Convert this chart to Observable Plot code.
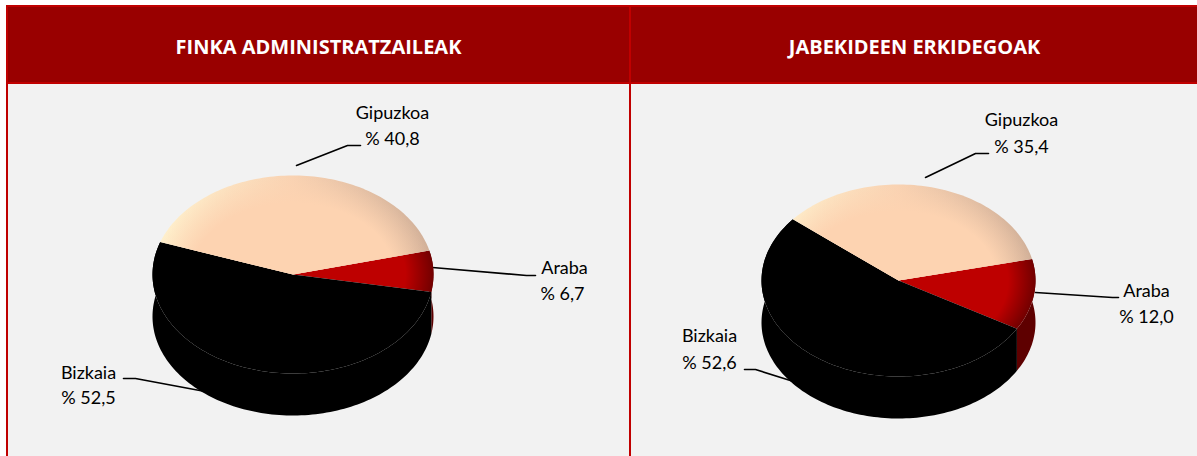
<!DOCTYPE html>
<html>
<head>
<meta charset="utf-8">
<style>html,body{margin:0;padding:0;background:#fff}svg{display:block}</style>
<script src="https://cdn.jsdelivr.net/npm/d3@7"></script>
<script src="https://cdn.jsdelivr.net/npm/@observablehq/plot@0.6"></script>
</head>
<body>
<div id="chart"></div>
<script>
const panelTitles = ["FINKA ADMINISTRATZAILEAK", "JABEKIDEEN ERKIDEGOAK"];
const categories = ["Araba", "Bizkaia", "Gipuzkoa"];
const leftValues = [6.7, 52.5, 40.8];
const rightValues = [12.0, 52.6, 35.4];
const leftLabels = ["% 6,7", "% 52,5", "% 40,8"];
const rightLabels = ["% 12,0", "% 52,6", "% 35,4"];

const W = 1197, H = 456;
const RED = "#C00000", HEAD = "#990000", BG = "#F2F2F2", FONT = "Lato, 'Open Sans', sans-serif";

const panels = [
  {id: "l", x1: 7, x2: 630, titleX: 318},
  {id: "r", x1: 630, x2: 1198, titleX: 914}
];
const pies = [
  {id: "l", values: leftValues, labels: leftLabels, cx: 292.5, cy: 274, rx: 140.5, ry: 99, depth: 42, start: 14,
   hl: {cx: 292, cy: 283, rx: 137, ry: 100},
   text: [[564, 268, 562, 294], [88, 373, 88, 398], [392, 113, 392, 139]],
   leaders: [[[432, 267], [526, 275], [535, 275]], [[123, 378], [135, 378], [210, 392]], [[296, 165], [347, 145], [360, 145]]]},
  {id: "r", values: rightValues, labels: rightLabels, cx: 898, cy: 280, rx: 137, ry: 96, depth: 42, start: 13,
   hl: {cx: 898, cy: 289, rx: 134, ry: 99},
   text: [[1146, 291, 1146, 317], [709, 336, 709, 363], [1021, 120, 1021, 147]],
   leaders: [[[1035, 292], [1112, 297], [1118, 297]], [[744, 369], [755, 369], [793, 381]], [[925, 177], [975, 153], [988, 153]]]}
];

const rad = d => d * Math.PI / 180;
function arc(p, a0, a1, dy = 0) {
  const n = Math.max(2, Math.ceil(Math.abs(a1 - a0) / 1.5));
  return d3.range(n + 1).map(i => {
    const a = a0 + (a1 - a0) * i / n;
    return {x: p.cx + p.rx * Math.cos(rad(a)), y: p.cy - p.ry * Math.sin(rad(a)) + dy};
  });
}
const ellipsePts = e => d3.range(0, 361, 2).map(a => ({x: e.cx + e.rx * Math.cos(rad(a)), y: e.cy - e.ry * Math.sin(rad(a))}));

function defs() {
  const ns = "http://www.w3.org/2000/svg";
  const el = document.createElementNS(ns, "defs");
  el.innerHTML = pies.map(p => `
    <linearGradient id="peachBase-${p.id}" gradientUnits="userSpaceOnUse" x1="${p.cx - p.rx}" x2="${p.cx + p.rx}" y1="0" y2="0">
      <stop offset="0" stop-color="#FFF2CE"/><stop offset=".5" stop-color="#F9D2B2"/><stop offset="1" stop-color="#CFAE97"/>
    </linearGradient>
    <radialGradient id="peachTop-${p.id}" gradientUnits="userSpaceOnUse" cx="0" cy="0" r="1" gradientTransform="translate(${p.cx} ${p.cy}) scale(${p.rx} ${p.ry})">
      <stop offset="0" stop-color="#FDD3B1"/><stop offset=".72" stop-color="#FDD3B1"/><stop offset="1" stop-color="#FDD3B1" stop-opacity="0"/>
    </radialGradient>
    <radialGradient id="redTop-${p.id}" gradientUnits="userSpaceOnUse" cx="0" cy="0" r="1" gradientTransform="translate(${p.cx} ${p.cy}) scale(${p.rx} ${p.ry})">
      <stop offset="0" stop-color="#BE0000"/><stop offset=".8" stop-color="#BE0000"/><stop offset="1" stop-color="#720000"/>
    </radialGradient>
    <radialGradient id="hlRing-${p.id}" cx=".5" cy=".5" r=".5">
      <stop offset=".66" stop-color="#9a9a9a" stop-opacity="0"/><stop offset=".86" stop-color="#9a9a9a" stop-opacity=".3"/><stop offset="1" stop-color="#9a9a9a" stop-opacity=".85"/>
    </radialGradient>
    <radialGradient id="hlFade-${p.id}" cx=".2" cy=".92" r=".5">
      <stop offset="0" stop-color="#fff"/><stop offset=".4" stop-color="#999"/><stop offset="1" stop-color="#000"/>
    </radialGradient>
    <mask id="hlMask-${p.id}" maskContentUnits="objectBoundingBox" maskUnits="objectBoundingBox" x="0" y="0" width="1" height="1">
      <rect width="1" height="1" fill="url(#hlFade-${p.id})"/>
    </mask>`).join("");
  return el;
}

function pieMarks(p) {
  const out = [];
  let a = p.start;
  const spans = p.values.map(v => { const s = [a, a - v * 3.6]; a = s[1]; return s; });
  const wallFill = ["#5E0000", "#000", "none"];
  const topFill = [`url(#redTop-${p.id})`, "#000", `url(#peachBase-${p.id})`];
  // side walls
  spans.forEach(([a0, a1], i) => {
    if (wallFill[i] === "none") return;
    const pts = [...arc(p, a0, a1), ...arc(p, a1, a0, p.depth)];
    out.push(Plot.line(pts, {x: "x", y: "y", fill: wallFill[i], stroke: "none", curve: "linear"}));
  });
  // top faces
  spans.forEach(([a0, a1], i) => {
    const pts = [{x: p.cx, y: p.cy}, ...arc(p, a0, a1)];
    out.push(Plot.line(pts, {x: "x", y: "y", fill: topFill[i], stroke: "none", curve: "linear"}));
    if (i === 2) out.push(Plot.line(pts, {x: "x", y: "y", fill: `url(#peachTop-${p.id})`, stroke: "none", curve: "linear"}));
  });
  // bevel highlight on the dark slice
  out.push(Plot.line(ellipsePts(p.hl), {x: "x", y: "y", fill: `url(#hlRing-${p.id})`, stroke: "none", ariaLabel: "highlight-" + p.id}));
  return out;
}

function leaderMarks(p) {
  return p.leaders.map(l => Plot.line(l, {x: d => d[0], y: d => d[1], stroke: "#000", strokeWidth: 1.6, curve: "linear"}));
}
function labelMarks(p) {
  const rows = categories.flatMap((c, i) => [
    {x: p.text[i][0], y: p.text[i][1], t: c},
    {x: p.text[i][2], y: p.text[i][3], t: p.labels[i]}
  ]);
  return [Plot.text(rows, {x: "x", y: "y", text: "t", fill: "#000", fontSize: 18, fontFamily: FONT, textAnchor: "middle", lineAnchor: "middle"})];
}

const chart = Plot.plot({
  width: W, height: H,
  margin: 0,
  x: {domain: [0, W], range: [0, W], axis: null},
  y: {domain: [0, H], range: [0, H], axis: null},
  style: {background: "#fff", overflow: "visible"},
  marks: [
    defs,
    Plot.rect(panels, {x1: "x1", x2: "x2", y1: () => 83, y2: () => H + 2, fill: BG, stroke: RED, strokeWidth: 2}),
    Plot.rect(panels, {x1: "x1", x2: "x2", y1: () => 6, y2: () => 83, fill: HEAD, stroke: RED, strokeWidth: 2}),
    Plot.text(panels, {x: "titleX", y: () => 47, text: (d, i) => panelTitles[i], fill: "#fff", fontSize: 20, fontWeight: 700, fontFamily: "'Open Sans', sans-serif", textAnchor: "middle", lineAnchor: "middle"}),
    ...pies.flatMap(leaderMarks),
    ...pies.flatMap(pieMarks),
    ...pies.flatMap(labelMarks)
  ]
});
pies.forEach(p => {
  const g = chart.querySelector(`g[aria-label="highlight-${p.id}"]`);
  if (g) g.setAttribute("mask", `url(#hlMask-${p.id})`);
});
document.getElementById("chart").appendChild(chart);
</script>
</body>
</html>
